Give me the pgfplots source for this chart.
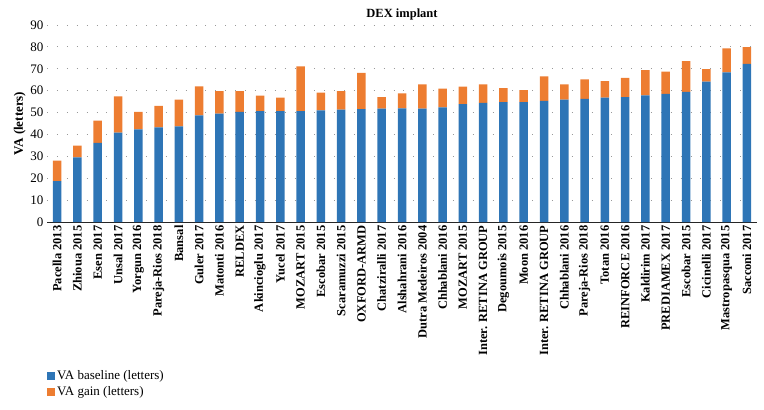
\documentclass[border=0pt]{standalone}
\usepackage{fontspec}
\setmainfont{Liberation Serif}
\usepackage{pgfplots}
\pgfplotsset{compat=1.18}
\definecolor{cblue}{RGB}{46,117,182}
\definecolor{corange}{RGB}{237,125,49}
\pgfplotstableread{
x base gain
0 18.7 9.3
1 29.5 5.4
2 36.2 10.1
3 40.8 16.6
4 42.3 8.0
5 43.2 9.8
6 43.7 12.2
7 48.7 13.3
8 49.5 10.3
9 50.3 9.5
10 50.7 7.0
11 50.7 6.1
12 50.7 20.4
13 51.0 8.1
14 51.3 8.5
15 51.6 16.5
16 51.8 5.2
17 51.9 6.9
18 51.8 11.1
19 52.4 8.5
20 53.8 8.0
21 54.4 8.5
22 54.8 6.4
23 54.8 5.5
24 55.3 11.2
25 55.9 7.0
26 56.3 8.9
27 56.8 7.6
28 57.0 8.8
29 57.9 11.5
30 58.5 10.2
31 59.4 14.1
32 64.1 5.8
33 68.4 10.9
34 72.2 7.7
}\datatable
\begin{document}
\begin{tikzpicture}[x=1bp,y=1bp]
\useasboundingbox (0,0) rectangle (764,409);
\begin{axis}[
  at={(47bp,187bp)}, anchor=south west,
  scale only axis, width=710bp, height=197bp,
  ybar stacked, bar width=8.5bp,
  xmin=-0.5, xmax=34.5, ymin=0, ymax=90,
  ytick={0,10,...,90},
  xtick={0,...,34},
  xticklabels={Pacella 2013,Zhioua 2015,Esen 2017,Unsal 2017,Yorgun 2016,Pareja-Rios 2018,Bansal,Guler 2017,Matonti 2016,RELDEX,Akincioglu 2017,Yucel 2017,MOZART 2015,Escobar 2015,Scaramuzzi 2015,OXFORD-ARMD,Chatziralli 2017,Alshahrani 2016,Dutra Medeiros 2004,Chhablani 2016,MOZART 2015,Inter. RETINA GROUP,Degoumois 2015,Moon 2016,Inter. RETINA GROUP,Chhablani 2016,Pareja-Rios 2018,Totan 2016,REINFORCE 2016,Kaldirim 2017,PREDIAMEX 2017,Escobar 2015,Cicinelli 2017,Mastropasqua 2015,Sacconi 2017},
  x tick label style={rotate=90, anchor=east, font=\fontsize{12.5bp}{13bp}\selectfont\bfseries},
  y tick label style={font=\fontsize{13bp}{14bp}\selectfont},
  /pgf/number format/assume math mode=true,
  axis x line*=bottom, axis y line*=left,
  y axis line style={draw=none},
  x axis line style={draw=black!85, line width=1bp},
  major tick length=0pt,
  ymajorgrids,
  major grid style={gray!80, line width=0.9bp, dash pattern=on 0.9bp off 9bp},
  ylabel={VA (letters)},
  ylabel style={font=\fontsize{13bp}{14bp}\selectfont\bfseries, yshift=-2bp},
  title={DEX implant},
  title style={font=\fontsize{12.5bp}{13bp}\selectfont\bfseries, yshift=-5bp},
  legend style={at={(axis description cs:0,-0.745)}, anchor=north west, draw=none, fill=none,
    font=\fontsize{13bp}{14bp}\selectfont, row sep=1.5bp, inner sep=0pt,
    legend cell align=left},
  legend image code/.code={\fill[#1] (0bp,-4bp) rectangle (8bp,4bp);},
]
\addplot[fill=cblue, draw=none] table[x=x,y=base]{\datatable};
\addplot[fill=corange, draw=none] table[x=x,y=gain]{\datatable};
\legend{VA baseline (letters),VA gain (letters)}
\end{axis}
\end{tikzpicture}
\end{document}
